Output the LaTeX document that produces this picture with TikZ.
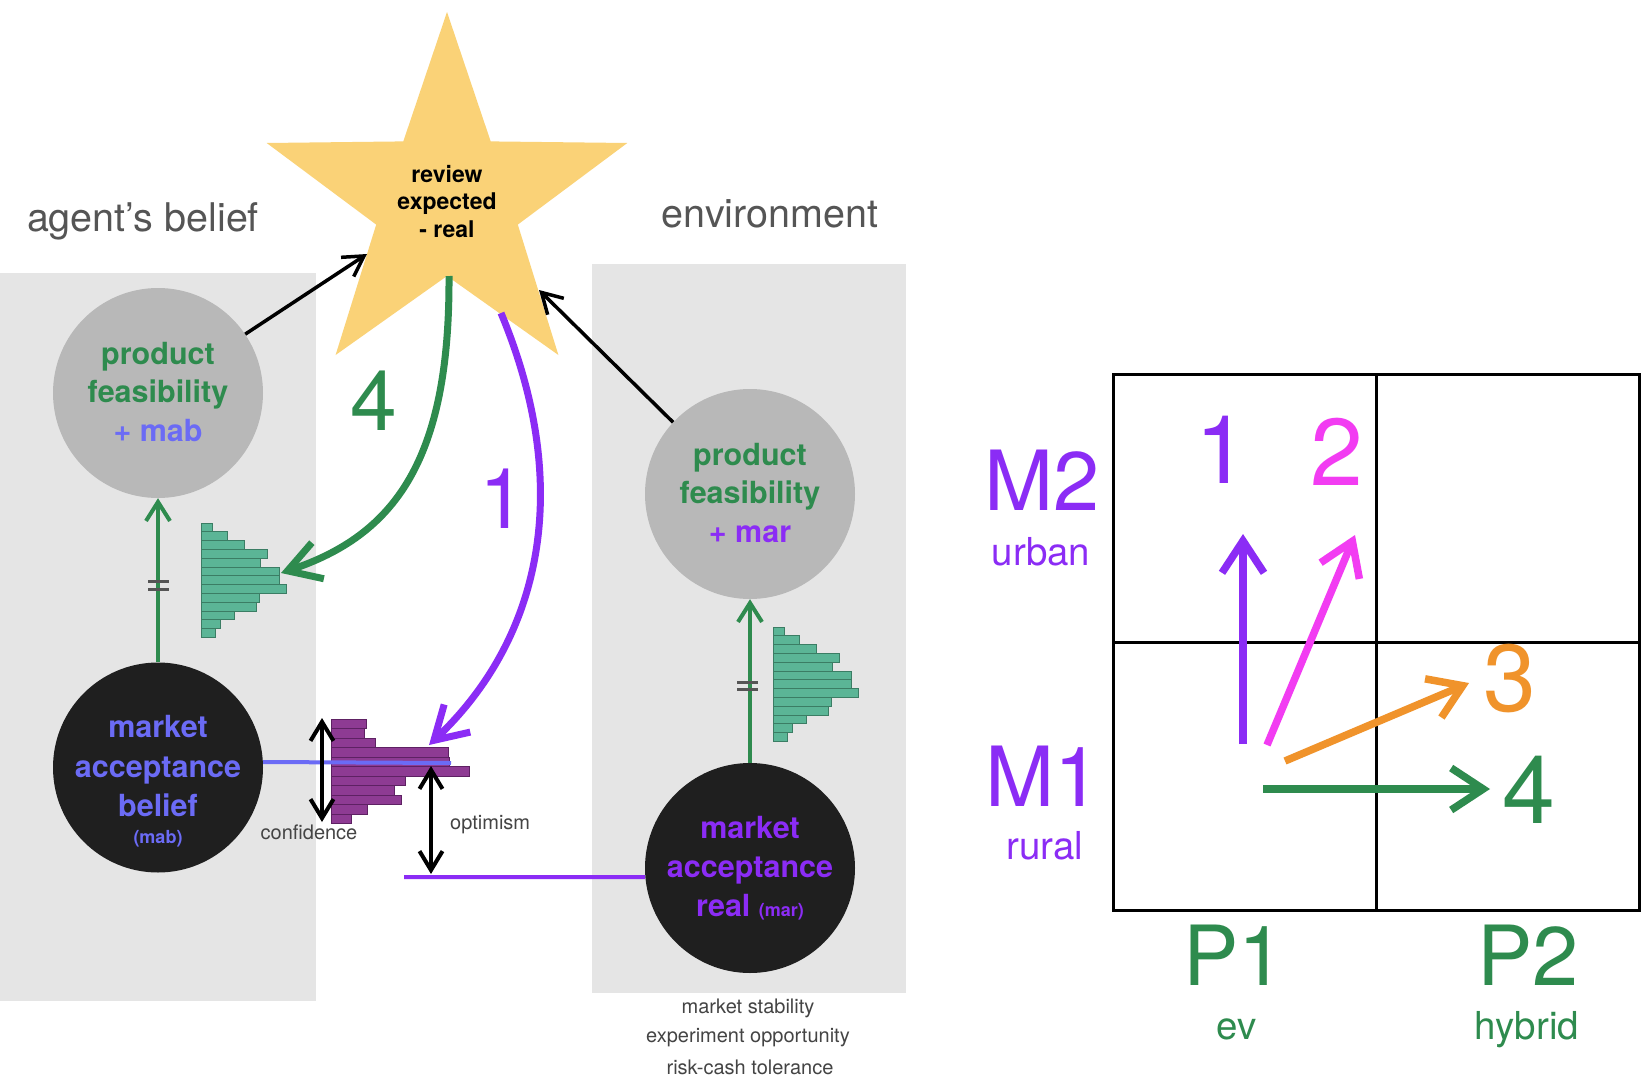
\documentclass[tikz,border=0pt]{standalone}
\usepackage{fontspec}
\setmainfont{TeX Gyre Heros}
\usetikzlibrary{arrows.meta}
\definecolor{cgreen}{HTML}{2E8B4E}
\definecolor{cpurple}{HTML}{8B2CF5}
\definecolor{cblue}{HTML}{6B6BF5}
\definecolor{cmag}{HTML}{F23CF2}
\definecolor{corange}{HTML}{F0932B}
\definecolor{cstar}{HTML}{FAD277}
\definecolor{cpanel}{HTML}{E5E5E5}
\definecolor{ccircle}{HTML}{B8B8B8}
\definecolor{cdark}{HTML}{1F1F1F}
\definecolor{chead}{HTML}{555555}
\definecolor{csmall}{HTML}{444444}
\definecolor{chgfill}{HTML}{5BB596}
\definecolor{chgline}{HTML}{3B7D64}
\definecolor{chpfill}{HTML}{8E3B93}
\definecolor{chpline}{HTML}{5E2163}
\tikzset{
  graycirc/.style={circle, fill=ccircle, minimum size=210pt, inner sep=0pt},
  darkcirc/.style={circle, fill=cdark, minimum size=210pt, inner sep=0pt},
  txt/.style={inner sep=0pt, anchor=base},
  lbl/.style={txt, font=\fontsize{30.5}{36}\selectfont\bfseries},
  sublbl/.style={txt, font=\fontsize{18}{22}\selectfont\bfseries},
  startxt/.style={txt, font=\fontsize{23}{27}\selectfont\bfseries},
  head/.style={txt, text=chead, font=\fontsize{39.5}{44}\selectfont},
  note/.style={txt, text=csmall, font=\fontsize{20}{24}\selectfont},
  bignum/.style={inner sep=0pt, font=\fontsize{84}{90}\selectfont},
  gridnum/.style={inner sep=0pt, font=\fontsize{95}{100}\selectfont},
  axisbig/.style={txt, font=\fontsize{83}{90}\selectfont},
  axissmall/.style={txt, font=\fontsize{38.5}{44}\selectfont},
  barG/.style={fill=chgfill, draw=chgline, line width=1pt},
  barP/.style={fill=chpfill, draw=chpline, line width=1pt},
  eqmark/.style={draw=chead, line width=3pt},
  blackarr/.style={line width=3.5pt, -{Straight Barb[length=20pt,width=23pt]}},
  greenup/.style={cgreen, line width=4pt, -{Straight Barb[length=19pt,width=24pt]}},
  dblarr/.style={line width=4pt, {Straight Barb[length=19pt,width=23pt]}-{Straight Barb[length=19pt,width=23pt]}},
  bigarr/.style={line width=7pt, -{Straight Barb[length=32pt,width=38pt]}},
  gridarr/.style={line width=7.5pt, -{Straight Barb[length=32pt,width=42pt]}},
  gridline/.style={line width=3pt, draw=black},
}
\begin{document}
\begin{tikzpicture}[x=1pt,y=-1pt]
\useasboundingbox (0,0) rectangle (1642,1079);
\fill[white] (0,0) rectangle (1642,1079);
% panels
\fill[cpanel] (0,273) rectangle (316,1001);
\fill[cpanel] (592,264) rectangle (906,993);
% star
\fill[cstar] (447,12) -- (490.7,141.4) -- (627.3,143) -- (517.8,224.6) -- (558.4,355)
  -- (447,276) -- (335.6,355) -- (376.2,224.6) -- (266.7,143) -- (403.3,141.4) -- cycle;
\node[startxt] (st1) at (447,182) {review};
\node[startxt] (st2) at (447,209) {expected};
\node[startxt] (st3) at (447,237) {- real};
% circles
\node[graycirc] (lpf) at (158,393) {};
\node[darkcirc] (lmab) at (158,767.5) {};
\node[graycirc] (rpf) at (750,494) {};
\node[darkcirc] (rmar) at (750,868) {};
% histograms
\foreach \w [count=\i from 0] in {11,26,43,66,59,78,78,85,58,55,33,19,14}
  \draw[barG] (201,{523+8.8*\i}) rectangle ++(\w,8.8);
\foreach \w [count=\i from 0] in {11,26,43,66,59,78,78,85,58,55,33,19,14}
  \draw[barG] (773,{627+8.8*\i}) rectangle ++(\w,8.8);
\foreach \w [count=\i from 0] in {35,33,44,117,118,138,74,63,70,36,20}
  \draw[barP] (331,{719+9.5*\i}) rectangle ++(\w,9.5);
% level lines
\coordinate (blueEnd) at (451,763);
\draw[cblue, line width=4pt] (lmab.3) -- (blueEnd);
\coordinate (purpEnd) at (404,877);
\draw[cpurple, line width=4pt] (rmar.185) -- (purpEnd);
% double arrows
\coordinate (confTop) at (322,718);
\coordinate (confBot) at (322,822);
\draw[dblarr] (confTop) -- (confBot);
\coordinate (optTop) at (431,766);
\coordinate (optBot) at (431,874);
\draw[dblarr] (optTop) -- (optBot);
% green vertical arrows
\draw[greenup] (lmab.north) -- (lpf.south);
\draw[greenup] (rmar.north) -- (rpf.south);
\draw[eqmark] (148,581) -- (169,581);
\draw[eqmark] (148,589) -- (169,589);
\draw[eqmark] (737,682) -- (758,682);
\draw[eqmark] (737,689) -- (758,689);
% black arrows to star
\coordinate (starL) at (367,254);
\coordinate (starR) at (539,290);
\draw[blackarr] (lpf.34) -- (starL);
\draw[blackarr] (rpf.137) -- (starR);
% big curved arrows
\coordinate (starG) at (449,276);
\coordinate (ghTip) at (281,573);
\draw[bigarr, cgreen] (starG) .. controls (450,460) and (395,535) .. (ghTip);
\coordinate (starP) at (501,313);
\coordinate (phTip) at (429,745);
\draw[bigarr, cpurple] (starP) .. controls (575,490) and (540,640) .. (phTip);
\node[bignum, text=cgreen] (n4) at (374,401) {4};
\node[bignum, text=cpurple] (n1) at (503,499) {1};
% circle texts
\node[lbl, text=cgreen] (lp1) at (158,364) {product};
\node[lbl, text=cgreen] (lp2) at (158,402) {feasibility};
\node[lbl, text=cblue] (lp3) at (158,441) {+ mab};
\node[lbl, text=cgreen] (rp1) at (750,465) {product};
\node[lbl, text=cgreen] (rp2) at (750,503) {feasibility};
\node[lbl, text=cpurple] (rp3) at (750,542) {+ mar};
\node[lbl, text=cblue] (lm1) at (158,737) {market};
\node[lbl, text=cblue] (lm2) at (158,777) {acceptance};
\node[lbl, text=cblue] (lm3) at (158,816) {belief};
\node[sublbl, text=cblue] (lm4) at (158,843) {(mab)};
\node[lbl, text=cpurple] (rm1) at (750,838) {market};
\node[lbl, text=cpurple] (rm2) at (750,877) {acceptance};
\node[lbl, text=cpurple] (rm3) at (750,916) {real {\fontsize{18}{22}\selectfont (mar)}};
% headers and notes
\node[head] (hagent) at (143,231) {agent’s belief};
\node[head] (henv) at (770,227) {environment};
\node[note] (nconf) at (309,839) {confidence};
\node[note, anchor=base west] (nopt) at (450,829) {optimism};
\node[note] (nms) at (748,1013) {market stability};
\node[note] (neo) at (748,1042) {experiment opportunity};
\node[note] (nrc) at (750,1074) {risk-cash tolerance};
% grid
\draw[gridline] (1113,374) rectangle (1639,910);
\draw[gridline] (1376,374) -- (1376,910);
\draw[gridline] (1113,642) -- (1639,642);
\coordinate (a1s) at (1243,744); \coordinate (a1e) at (1243,534);
\coordinate (a2s) at (1267,745); \coordinate (a2e) at (1355,535);
\coordinate (a3s) at (1285,761); \coordinate (a3e) at (1469,683);
\coordinate (a4s) at (1263,789); \coordinate (a4e) at (1490,789);
\draw[gridarr, cpurple] (a1s) -- (a1e);
\draw[gridarr, cmag] (a2s) -- (a2e);
\draw[gridarr, corange] (a3s) -- (a3e);
\draw[gridarr, cgreen] (a4s) -- (a4e);
\node[gridnum, text=cpurple] (g1) at (1222,450) {1};
\node[gridnum, text=cmag] (g2) at (1337,452) {2};
\node[gridnum, text=corange] (g3) at (1510,679) {3};
\node[gridnum, text=cgreen] (g4) at (1529,790) {4};
\node[axisbig, text=cpurple] (m2) at (1042,510) {M2};
\node[axissmall, text=cpurple] (urb) at (1041,565) {urban};
\node[axisbig, text=cpurple] (m1) at (1043,806) {M1};
\node[axissmall, text=cpurple] (rur) at (1045,859) {rural};
\node[axisbig, text=cgreen] (p1) at (1234,985) {P1};
\node[axissmall, text=cgreen] (ev) at (1237,1039) {ev};
\node[axisbig, text=cgreen] (p2) at (1528,985) {P2};
\node[axissmall, text=cgreen] (hyb) at (1527,1039) {hybrid};
\end{tikzpicture}
\end{document}
